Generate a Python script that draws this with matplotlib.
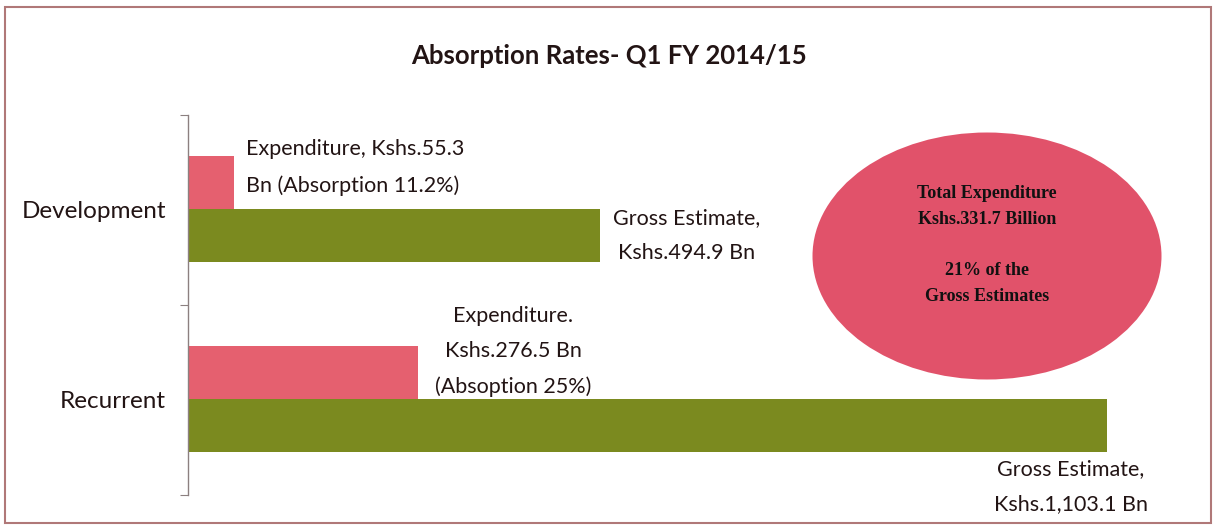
import matplotlib
matplotlib.use("Agg")
import matplotlib.pyplot as plt
from matplotlib.patches import Ellipse, Rectangle

# ---- data ----
categories = ["Recurrent", "Development"]
expenditure = [276.5, 55.3]
gross_estimate = [1103.1, 494.9]
exp_labels = ["Expenditure.\nKshs.276.5 Bn\n(Absoption 25%)",
              "Expenditure, Kshs.55.3\nBn (Absorption 11.2%)"]
gross_labels = ["Gross Estimate,\nKshs.1,103.1 Bn",
                "Gross Estimate,\nKshs.494.9 Bn"]
title = "Absorption Rates- Q1 FY 2014/15"
bubble_text = "Total Expenditure\nKshs.331.7 Billion\n\n21% of the\nGross Estimates"

PINK = "#e5606f"
GREEN = "#7b8a1f"
BUBBLE = "#e1526a"
TXT = "#221414"
NARROW = ["Lato", "DejaVu Sans"]
AFS = 15.5
ALS = 1.95

W, H = 1213, 527
fig = plt.figure(figsize=(W / 100, H / 100), dpi=100)
fig.patch.set_facecolor("white")

ax = fig.add_axes([188 / W, 1 - 495 / H, (1200 - 188) / W, (495 - 115) / H])
ax.set_facecolor("none")

ypos = list(range(len(categories)))
bh = 0.28
pink_y = [y + 0.145 for y in ypos]
green_y = [y - 0.135 for y in ypos]
ax.barh(pink_y, expenditure, height=bh, color=PINK, zorder=2)
ax.barh(green_y, gross_estimate, height=bh, color=GREEN, zorder=2)

ax.set_xlim(0, (1200 - 188) / ((1107 - 188) / 1103.1))
ax.set_ylim(-0.5, len(categories) - 0.5)

for s in ["top", "right", "bottom"]:
    ax.spines[s].set_visible(False)
ax.spines["left"].set_color("#8c8080")
ax.spines["left"].set_linewidth(1.0)
ax.set_xticks([])

ax.set_yticks([y - 0.5 for y in range(len(categories) + 1)])
ax.set_yticklabels([])
ax.tick_params(axis="y", which="major", length=6, color="#8c8080", direction="out")
ax.set_yticks(ypos, minor=True)
ax.set_yticklabels(categories, minor=True, fontsize=17.5, family=["Lato", "DejaVu Sans"],
                   color=TXT)
ax.tick_params(axis="y", which="minor", length=0, pad=16)

common = dict(textcoords="offset pixels", va="center", fontsize=AFS, family=NARROW,
              linespacing=ALS, color=TXT, annotation_clip=False)
# Recurrent expenditure
ax.annotate(exp_labels[0], xy=(expenditure[0], pink_y[0]), xytext=(95, 21),
            ha="center", multialignment="center", **common)
# Development expenditure
ax.annotate(exp_labels[1], xy=(expenditure[1], pink_y[1]), xytext=(12, 15),
            ha="left", multialignment="left", **common)
# Recurrent gross
ax.annotate(gross_labels[0], xy=(gross_estimate[0], green_y[0]), xytext=(-36, -61),
            ha="center", multialignment="center", **common)
# Development gross
ax.annotate(gross_labels[1], xy=(gross_estimate[1], green_y[1]), xytext=(86, 0),
            ha="center", multialignment="center", **common)

# title
fig.text(609 / W, 1 - 56 / H, title, ha="center", va="center", fontsize=18.5,
         fontweight="bold", family=["Lato", "DejaVu Sans"], color=TXT)

# bubble
ell = Ellipse((987 / W, 1 - 256 / H), 349 / W, 247 / H, transform=fig.transFigure,
              facecolor=BUBBLE, edgecolor="none", zorder=5)
fig.patches.append(ell)
fig.text(987 / W, 1 - 245 / H, bubble_text, ha="center", va="center", fontsize=13,
         fontweight="bold", family=["Liberation Serif", "DejaVu Serif"],
         linespacing=1.67, color="#111111", zorder=6)

# outer border
border = Rectangle((5 / W, 1 - 523 / H), (1211 - 5) / W, (523 - 7) / H,
                   transform=fig.transFigure, fill=False, edgecolor="#b07878",
                   linewidth=1.5, zorder=10)
fig.patches.append(border)

fig.savefig("out.png", dpi=100)
